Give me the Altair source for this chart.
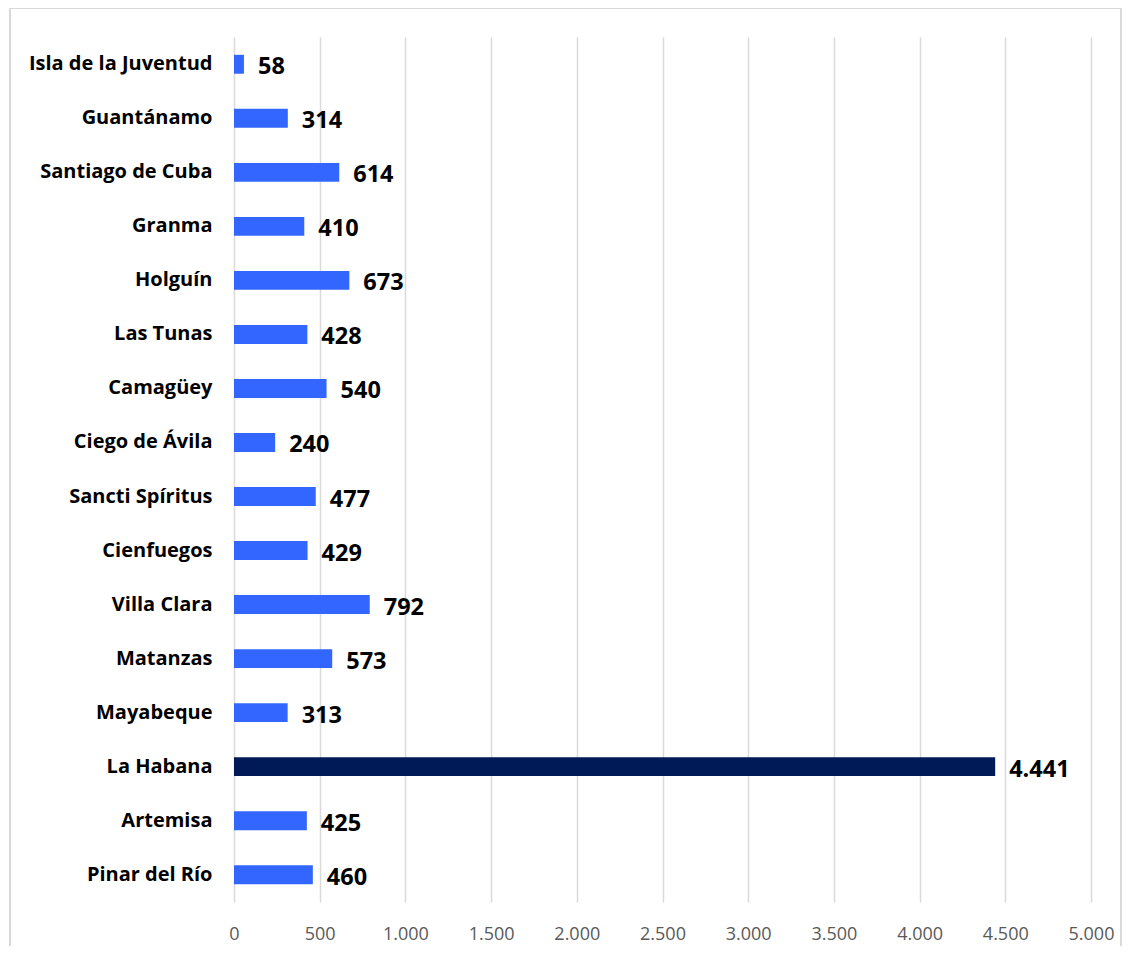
import altair as alt
import pandas as pd

provincias = ["Isla de la Juventud", "Guantánamo", "Santiago de Cuba", "Granma", "Holguín",
              "Las Tunas", "Camagüey", "Ciego de Ávila", "Sancti Spíritus", "Cienfuegos",
              "Villa Clara", "Matanzas", "Mayabeque", "La Habana", "Artemisa", "Pinar del Río"]
valores = [58, 314, 614, 410, 673, 428, 540, 240, 477, 429, 792, 573, 313, 4441, 425, 460]
resaltar = [p == "La Habana" for p in provincias]
etiquetas = [f"{v:,}".replace(",", ".") for v in valores]

df = pd.DataFrame({"prov": provincias, "val": valores, "hl": resaltar, "lab": etiquetas})

W, H = 857, 865
FONT = "Open Sans"

y = alt.Y("prov:N", sort=provincias, title=None,
          scale=alt.Scale(paddingInner=0.65, paddingOuter=0.33),
          axis=alt.Axis(domain=False, ticks=False, labelFontWeight="bold", labelFontSize=20,
                        labelColor="#000000", labelFont=FONT, labelPadding=22, labelLimit=300))
x = alt.X("val:Q", title=None,
          scale=alt.Scale(domain=[0, 5000], nice=False),
          axis=alt.Axis(values=list(range(0, 5001, 500)), domain=False, ticks=False,
                        labelExpr="replace(format(datum.value, ','), ',', '.')",
                        labelFlush=False, labelOverlap=False,
                        labelFontSize=18, labelColor="#595959", labelFont=FONT, labelPadding=23,
                        grid=True, gridColor="#d9d9d9", gridWidth=1.5))

bars = alt.Chart(df).mark_bar().encode(
    x=x, y=y,
    color=alt.Color("hl:N", scale=alt.Scale(domain=[False, True], range=["#3366ff", "#001a57"]), legend=None),
)
text = alt.Chart(df).mark_text(align="left", baseline="middle", dx=14, dy=3, fontSize=23.5,
                               fontWeight="bold", font=FONT, color="#000000").encode(
    x="val:Q", y=alt.Y("prov:N", sort=provincias), text="lab:N")

frame = alt.Chart(df).mark_rect(fill=None, stroke="#d9d9d9", strokeWidth=1.5).encode(
    x=alt.value(-224), x2=alt.value(W + 30), y=alt.value(-29), y2=alt.value(H + 120))

chart = alt.layer(bars, text, frame).properties(
    width=W, height=H,
    padding={"left": 226, "top": 29, "right": 32, "bottom": 44},
    autosize=alt.AutoSizeParams(type="none"),
).configure_view(stroke=None)

chart.save("out.html", embed_options={"renderer": "svg", "actions": False})
